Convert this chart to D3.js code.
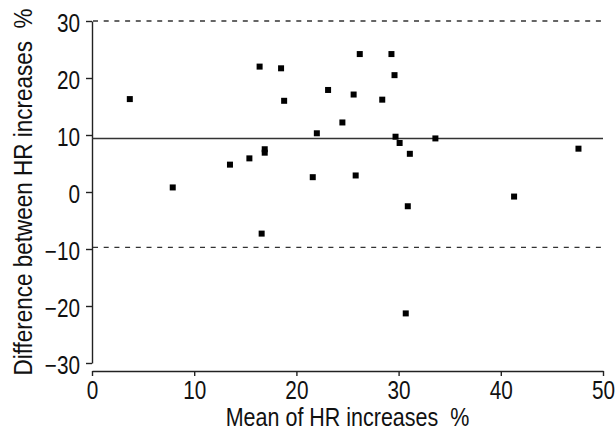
<!DOCTYPE html>
<html>
<head>
<meta charset="utf-8">
<script src="https://cdn.jsdelivr.net/npm/d3@7"></script>
<style>
  body { margin: 0; background: #fff; }
  text { font-family: "Liberation Sans", Arial, sans-serif; fill: #111; }
</style>
</head>
<body>
<div id="chart"></div>
<script>
// Bland-Altman style plot: mean vs difference of HR increases
const meanVals = [3.7, 7.9, 13.5, 15.4, 16.4, 16.6, 16.9, 16.9, 18.5, 18.8,
  21.6, 22.0, 23.1, 24.5, 25.6, 25.8, 26.2, 28.4, 29.3, 29.6,
  29.7, 30.1, 30.7, 30.9, 31.1, 33.6, 41.3, 47.6];
const diffVals = [16.3, 0.8, 4.8, 5.9, 22.0, -7.3, 7.5, 6.9, 21.7, 16.0,
  2.6, 10.3, 17.9, 12.2, 17.1, 2.9, 24.2, 16.2, 24.2, 20.5,
  9.7, 8.6, -21.3, -2.5, 6.7, 9.4, -0.8, 7.6];
const meanDiff = 9.4;
const limits = [30, -9.7];
const xTicks = [0, 10, 20, 30, 40, 50];
const yTicks = [-30, -20, -10, 0, 10, 20, 30];

const W = 616, H = 432;
const sq = 0.83; // glyphs in the original are condensed

const svg = d3.select("#chart").append("svg")
  .attr("width", W)
  .attr("height", H);

const x = d3.scaleLinear().domain([0, 50]).range([92, 603]);
const y = d3.scaleLinear().domain([-30, 30]).range([363, 21]);

const axisCol = "#222";

// y axis (detached from x axis)
const yAxis = svg.append("g")
  .attr("transform", "translate(92,0)")
  .call(d3.axisLeft(y).tickValues(yTicks).tickSize(6).tickSizeOuter(0).tickPadding(6));
// x axis
const xAxis = svg.append("g")
  .attr("transform", "translate(0,371)")
  .call(d3.axisBottom(x).tickValues(xTicks).tickSize(5).tickSizeOuter(0).tickPadding(5));

[yAxis, xAxis].forEach(g => {
  g.select(".domain").attr("stroke", axisCol).attr("stroke-width", 1.4);
  g.selectAll(".tick line").attr("stroke", axisCol).attr("stroke-width", 1.4);
  g.selectAll(".tick text")
    .attr("fill", "#111")
    .attr("font-size", 25)
    .style("font-size", "25px")
    .attr("transform", "scale(" + sq + ",1)");
});
yAxis.selectAll(".tick text").attr("x", -12 / sq).attr("dy", "0.4em");
xAxis.selectAll(".tick text").attr("dy", "0.71em");

// limits of agreement (dashed)
svg.selectAll(".loa")
  .data(limits)
  .enter().append("line")
    .attr("class", "loa")
    .attr("x1", x(0) + 1)
    .attr("x2", x(49.8))
    .attr("y1", d => y(d))
    .attr("y2", d => y(d))
    .attr("stroke", "#333")
    .attr("stroke-width", 1.3)
    .attr("stroke-dasharray", "5,5.7");

// mean difference
svg.append("line")
  .attr("x1", x(0))
  .attr("x2", x(50))
  .attr("y1", y(meanDiff))
  .attr("y2", y(meanDiff))
  .attr("stroke", "#333")
  .attr("stroke-width", 1.5);

// points
const s = 6;
svg.selectAll(".pt")
  .data(meanVals.map((m, i) => ({m: m, d: diffVals[i]})))
  .enter().append("rect")
    .attr("class", "pt")
    .attr("x", d => x(d.m) - s / 2)
    .attr("y", d => y(d.d) - s / 2)
    .attr("width", s)
    .attr("height", s)
    .attr("fill", "#000");

// axis titles
svg.append("text")
  .attr("transform", "translate(" + (x(0) + x(50)) / 2 + ",426) scale(0.86,1)")
  .attr("text-anchor", "middle")
  .style("font-size", "25px")
  .text("Mean of HR increases \u00a0%");

svg.append("text")
  .attr("transform", "translate(32," + ((y(30) + y(-30)) / 2) + ") rotate(-90) scale(0.9,1)")
  .attr("text-anchor", "middle")
  .style("font-size", "25px")
  .text("Difference between HR increases \u00a0%");
</script>
</body>
</html>
